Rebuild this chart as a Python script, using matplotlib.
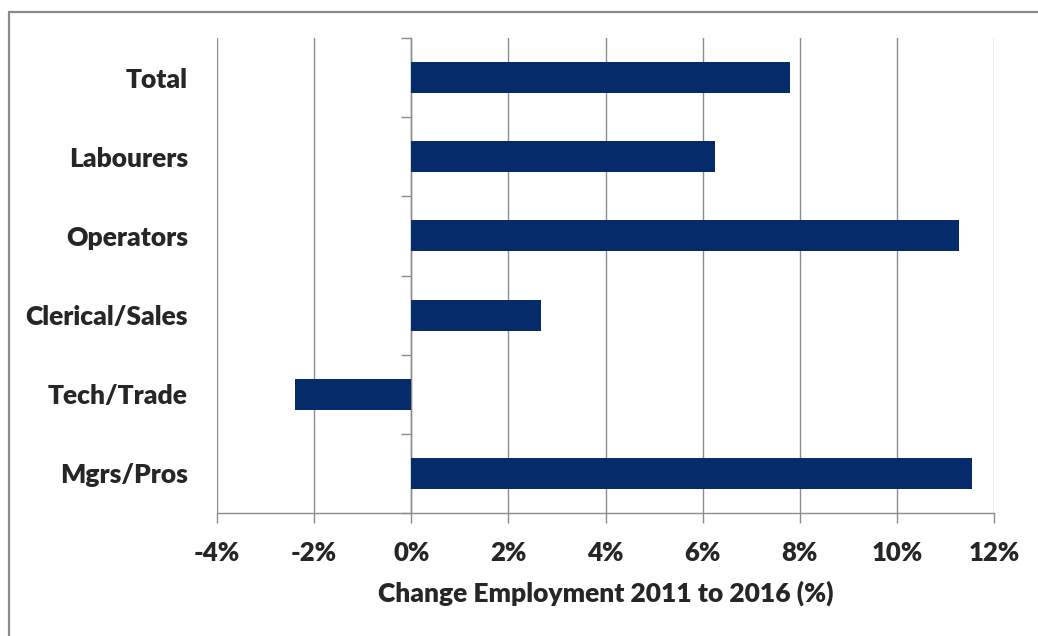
import matplotlib
matplotlib.use("Agg")
import matplotlib.pyplot as plt
from matplotlib.patches import Rectangle
from matplotlib.ticker import FuncFormatter, MultipleLocator

categories = ["Mgrs/Pros", "Tech/Trade", "Clerical/Sales", "Operators", "Labourers", "Total"]
change_pct = [11.54, -2.40, 2.67, 11.28, 6.26, 7.80]
x_ticks = [-4, -2, 0, 2, 4, 6, 8, 10, 12]

bar_color = "#062B6B"
grid_color = "#8C8C8C"
text_color = "#262626"

plt.rcParams["font.family"] = ["Lato", "DejaVu Sans"]
plt.rcParams["font.weight"] = "heavy"

fig = plt.figure(figsize=(10.38, 6.36), dpi=100)
fig.patch.set_facecolor("white")

# chart frame around the plot area
fig.add_artist(Rectangle((9 / 1038, -0.05), 1.2, 0.05 + 1 - 12 / 636,
                         transform=fig.transFigure, fill=False,
                         edgecolor="#8A8A8A", linewidth=1.6))

ax = fig.add_axes([217 / 1038, 1 - 513 / 636, (994 - 217) / 1038, (513 - 38) / 636])

ypos = list(range(len(categories)))
ax.barh(ypos, change_pct, height=0.39, color=bar_color, zorder=3)

ax.set_xlim(-4, 12)
ax.set_ylim(-0.5, len(categories) - 0.5)
ax.set_xticks(x_ticks)
ax.xaxis.set_major_formatter(FuncFormatter(lambda v, p: f"{v:.0f}%"))
ax.grid(axis="x", color=grid_color, linewidth=1.0, zorder=0)
ax.set_axisbelow(True)

for side in ["top", "right", "left"]:
    ax.spines[side].set_visible(False)
ax.spines["bottom"].set_color(grid_color)
ax.spines["bottom"].set_linewidth(1.0)
ax.tick_params(axis="x", length=7, width=1.0, color=grid_color, pad=13,
               labelsize=18.5, labelcolor=text_color)

ax.set_yticks(ypos)
ax.set_yticklabels(categories, fontweight="heavy")
ax.tick_params(axis="y", length=0, pad=21, labelsize=19, labelcolor=text_color)
for lbl in ax.get_xticklabels():
    lbl.set_fontweight("heavy")

ax.set_xlabel("Change Employment 2011 to 2016 (%)", fontsize=19,
              color=text_color, fontweight="heavy", labelpad=11)

# category axis crossing at 0% with boundary tick marks
zero_frac = (0 - (-4)) / (12 - (-4))
sec = ax.secondary_yaxis(zero_frac)
sec.spines["left"].set_color(grid_color)
sec.spines["left"].set_linewidth(1.0)
sec.yaxis.set_major_locator(MultipleLocator(1.0, offset=0.5))
sec.tick_params(axis="y", length=7, width=1.0, color=grid_color, labelleft=False)

fig.savefig("out.png", dpi=100, facecolor="white")
